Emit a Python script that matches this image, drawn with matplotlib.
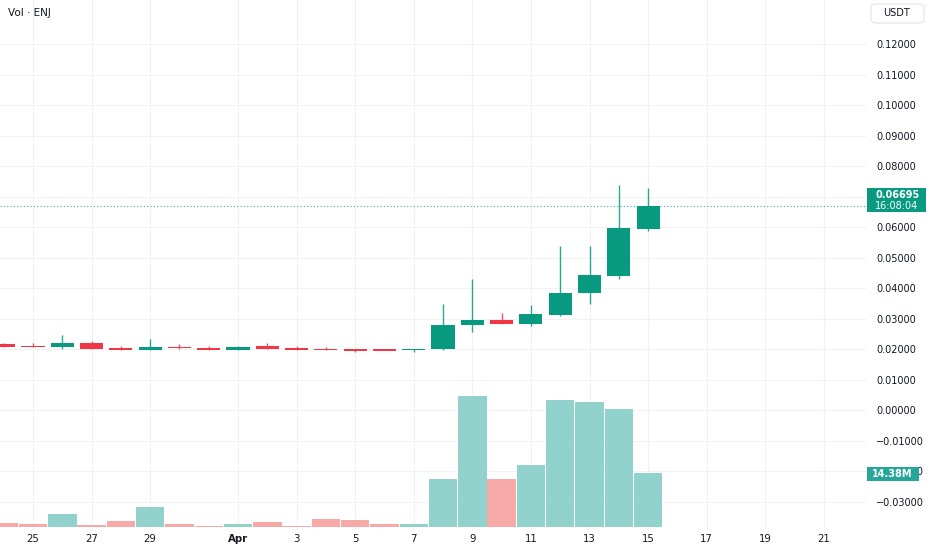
import matplotlib

matplotlib.use("Agg")
import matplotlib.pyplot as plt
from matplotlib.patches import FancyBboxPatch, Rectangle
from matplotlib.ticker import FixedLocator, FuncFormatter

# daily ENJ/USDT candles, Mar 24 .. Apr 15
dates = ["Mar 24", "Mar 25", "Mar 26", "Mar 27", "Mar 28", "Mar 29", "Mar 30",
         "Mar 31", "Apr 1", "Apr 2", "Apr 3", "Apr 4", "Apr 5", "Apr 6", "Apr 7",
         "Apr 8", "Apr 9", "Apr 10", "Apr 11", "Apr 12", "Apr 13", "Apr 14", "Apr 15"]
opens = [0.0216, 0.0210, 0.0207, 0.0222, 0.0203, 0.0198, 0.0209, 0.0205, 0.0199,
         0.0210, 0.0204, 0.0200, 0.0199, 0.0199, 0.0196, 0.0200, 0.0279, 0.0296,
         0.0283, 0.0313, 0.0383, 0.0441, 0.0595]
highs = [0.0219, 0.0219, 0.0246, 0.0227, 0.0210, 0.0233, 0.0217, 0.0210, 0.0210,
         0.0219, 0.0210, 0.0206, 0.0200, 0.0201, 0.0201, 0.0348, 0.0430, 0.0319,
         0.0345, 0.0538, 0.0538, 0.0738, 0.0729]
lows = [0.0206, 0.0206, 0.0202, 0.0200, 0.0197, 0.0197, 0.0202, 0.0198, 0.0198,
        0.0200, 0.0196, 0.0196, 0.0191, 0.0196, 0.0191, 0.0199, 0.0257, 0.0283,
        0.0275, 0.0310, 0.0349, 0.0431, 0.0586]
closes = [0.0207, 0.0207, 0.0221, 0.0201, 0.0198, 0.0209, 0.0203, 0.0199, 0.0208,
          0.0202, 0.0197, 0.0197, 0.0197, 0.0197, 0.0201, 0.0280, 0.0297, 0.0283,
          0.0316, 0.0383, 0.0442, 0.0596, 0.06695]
volumes_m = [1.07, 0.8, 3.46, 0.53, 1.6, 5.33, 0.8, 0.4, 0.8, 1.33, 0.4, 2.13, 1.86,
             0.8, 0.8, 12.8, 34.9, 12.8, 16.5, 33.8, 33.3, 31.4, 14.38]

# time axis labels, as day offsets from Mar 24
date_tick_days = [1, 3, 5, 8, 10, 12, 14, 16, 18, 20, 22, 24, 26, 28]
date_tick_labels = ["25", "27", "29", "Apr", "3", "5", "7", "9", "11", "13", "15",
                    "17", "19", "21"]
price_ticks = [-0.03, -0.02, -0.01, 0.0, 0.01, 0.02, 0.03, 0.04, 0.05, 0.06, 0.07,
               0.08, 0.09, 0.10, 0.11, 0.12]
last_price = 0.06695
last_volume_label = "14.38M"
countdown = "16:08:04"

UP = "#089981"
DOWN = "#F23645"
VOL_UP = "#92d2cc"
VOL_DOWN = "#f7a9a7"
TEXT = "#131722"
GRID = "#f2f2f4"

W, H = 932, 550
fig = plt.figure(figsize=(W / 100, H / 100), dpi=100)
fig.patch.set_facecolor("white")

rect = [0, 20 / H, 866 / W, 530 / H]
ax = fig.add_axes(rect)
ax_vol = ax.twinx()

days = list(range(len(dates)))

ax.set_xlim(-0.127, 29.44)
ax.set_ylim(-0.03922, 0.13444)
ax_vol.set_ylim(-0.72, 140.4)

# grid
ax.xaxis.set_major_locator(FixedLocator(date_tick_days))
ax.yaxis.set_major_locator(FixedLocator(price_ticks))
ax.grid(True, color=GRID, linewidth=0.8)
ax.set_axisbelow(True)

# candles (bodies get at least ~1.5 px so flat days stay visible)
min_body = 0.0005
for d, o, h, l, c in zip(days, opens, highs, lows, closes):
    col = UP if c >= o else DOWN
    ax.vlines(d, l, h, color=col, linewidth=1.0, alpha=0.85, zorder=2)
    body = abs(c - o)
    bottom = min(o, c)
    if body < min_body:
        bottom -= (min_body - body) / 2
        body = min_body
    ax.bar(d, body, bottom=bottom, width=0.79, color=col, linewidth=0, zorder=3)

# last price line
ax.axhline(last_price, color=UP, linestyle=(0, (1, 2)), linewidth=0.8, alpha=0.8, zorder=1)

# volume
vol_colors = [VOL_UP if c >= o else VOL_DOWN for o, c in zip(opens, closes)]
ax_vol.bar(days, volumes_m, width=0.97, color=vol_colors, linewidth=0)
ax_vol.set_yticks([])
ax_vol.set_xlim(ax.get_xlim())

for a in (ax, ax_vol):
    for s in a.spines.values():
        s.set_visible(False)

# axes labels
ax.yaxis.tick_right()
ax.yaxis.set_major_formatter(FuncFormatter(lambda v, _: f"{v:.5f}".replace("-", "\u2212")))
ax.tick_params(axis="y", length=0, pad=7.2, labelsize=7, labelcolor=TEXT)
for lbl in ax.get_yticklabels():
    lbl.set_horizontalalignment("left")
ax.set_xticklabels(date_tick_labels)
ax.tick_params(axis="x", length=0, pad=3, labelsize=7.3, labelcolor=TEXT)
for lbl in ax.get_xticklabels():
    if lbl.get_text() == "Apr":
        lbl.set_fontweight("bold")


def fx(px):
    return px / W


def fy(py):
    return 1 - py / H


# price label box
fig.patches.append(Rectangle((fx(867), fy(212)), 59 / W, 24 / H, transform=fig.transFigure,
                             facecolor=UP, edgecolor="none", zorder=5))
fig.text(fx(875), fy(195), f"{last_price:.5f}", color="white", fontsize=7,
         fontweight="bold", va="center", ha="left", zorder=6)
fig.text(fx(875), fy(206), countdown, color="white", fontsize=7, va="center", ha="left",
         zorder=6)

# volume label box
fig.patches.append(Rectangle((fx(867), fy(481)), 52 / W, 14 / H, transform=fig.transFigure,
                             facecolor="#26a69a", edgecolor="none", zorder=5))
fig.text(fx(872), fy(474), last_volume_label, color="white", fontsize=7, fontweight="bold",
         va="center", ha="left", zorder=6)

# currency box
fig.patches.append(FancyBboxPatch((fx(871), fy(23)), 53 / W, 19 / H,
                                  boxstyle="round,pad=0,rounding_size=0.006",
                                  transform=fig.transFigure, facecolor="white",
                                  edgecolor="#e0e3eb", linewidth=0.8, zorder=5))
fig.text(fx(897), fy(13), "USDT", color=TEXT, fontsize=7, va="center", ha="center", zorder=6)

fig.text(fx(8), fy(13), "Vol \u00b7 ENJ", color=TEXT, fontsize=7.5, va="center", ha="left")

fig.savefig("out.png", dpi=100)
